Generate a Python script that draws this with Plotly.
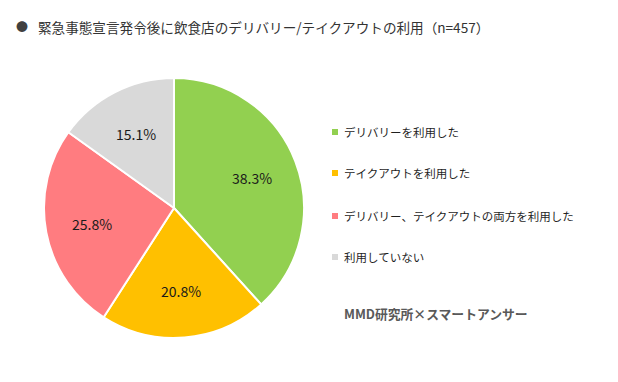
import math
import plotly.graph_objects as go

labels = ["デリバリーを利用した", "テイクアウトを利用した", "デリバリー、テイクアウトの両方を利用した", "利用していない"]
values = [38.3, 20.8, 25.8, 15.1]
colors = ["#92D050", "#FFC000", "#FF7C80", "#D9D9D9"]
title_text = "緊急事態宣言発令後に飲食店のデリバリー/テイクアウトの利用（n=457）"
source_text = "MMD研究所×スマートアンサー"

FONT = "Noto Sans CJK JP"
W, H = 618, 382
OFF = 8  # page body margin


def px(x):
    return (x - OFF) / W


def py(y):
    return 1 - (y - OFF) / H


CX, CY, R = 174, 208, 130

fig = go.Figure()
fig.add_trace(go.Pie(
    labels=labels, values=values, sort=False, direction="clockwise", rotation=0,
    marker=dict(colors=colors, line=dict(color="white", width=2)),
    textinfo="none",
    domain=dict(x=[px(CX - R), px(CX + R)], y=[py(CY + R), py(CY - R)]),
    showlegend=False, hoverinfo="label+value",
))

# percentage labels placed along each slice's bisector
total = sum(values)
cum = 0.0
for v in values:
    mid = (cum + v / 2) / total * 2 * math.pi
    cum += v
    rr = 0.64 * R
    fig.add_annotation(x=px(CX + rr * math.sin(mid)), y=py(CY - rr * math.cos(mid)),
                       xref="paper", yref="paper", text=f"{v:.1f}%", showarrow=False,
                       xanchor="center", yanchor="middle",
                       font=dict(family=FONT, size=14, color="#1a1a1a"))

# custom legend
legend_y = [132, 173, 216, 257]
for lab, col, yy in zip(labels, colors, legend_y):
    fig.add_shape(type="rect", xref="paper", yref="paper",
                  x0=px(332), x1=px(338), y0=py(yy + 3), y1=py(yy - 3),
                  fillcolor=col, line=dict(width=0))
    fig.add_annotation(x=px(342), y=py(yy), xref="paper", yref="paper",
                       text=lab, showarrow=False, xanchor="left", yanchor="middle",
                       font=dict(family=FONT, size=11.5, color="#1f1f1f"))

fig.add_annotation(x=px(342), y=py(313), xref="paper", yref="paper",
                   text="<b>" + source_text + "</b>", showarrow=False, xanchor="left", yanchor="middle",
                   font=dict(family=FONT, size=12.8, color="#595959"))

fig.add_annotation(x=px(22), y=py(27), xref="paper", yref="paper",
                   text="●", showarrow=False, xanchor="center", yanchor="middle",
                   font=dict(family=FONT, size=12, color="#404040"))
fig.add_annotation(x=px(36), y=py(27), xref="paper", yref="paper",
                   text=title_text, showarrow=False, xanchor="left", yanchor="middle",
                   font=dict(family=FONT, size=13.6, color="#333333"))

fig.update_layout(width=W, height=H, margin=dict(l=0, r=0, t=0, b=0),
                  paper_bgcolor="white", plot_bgcolor="white")
fig.write_html("out.html")
